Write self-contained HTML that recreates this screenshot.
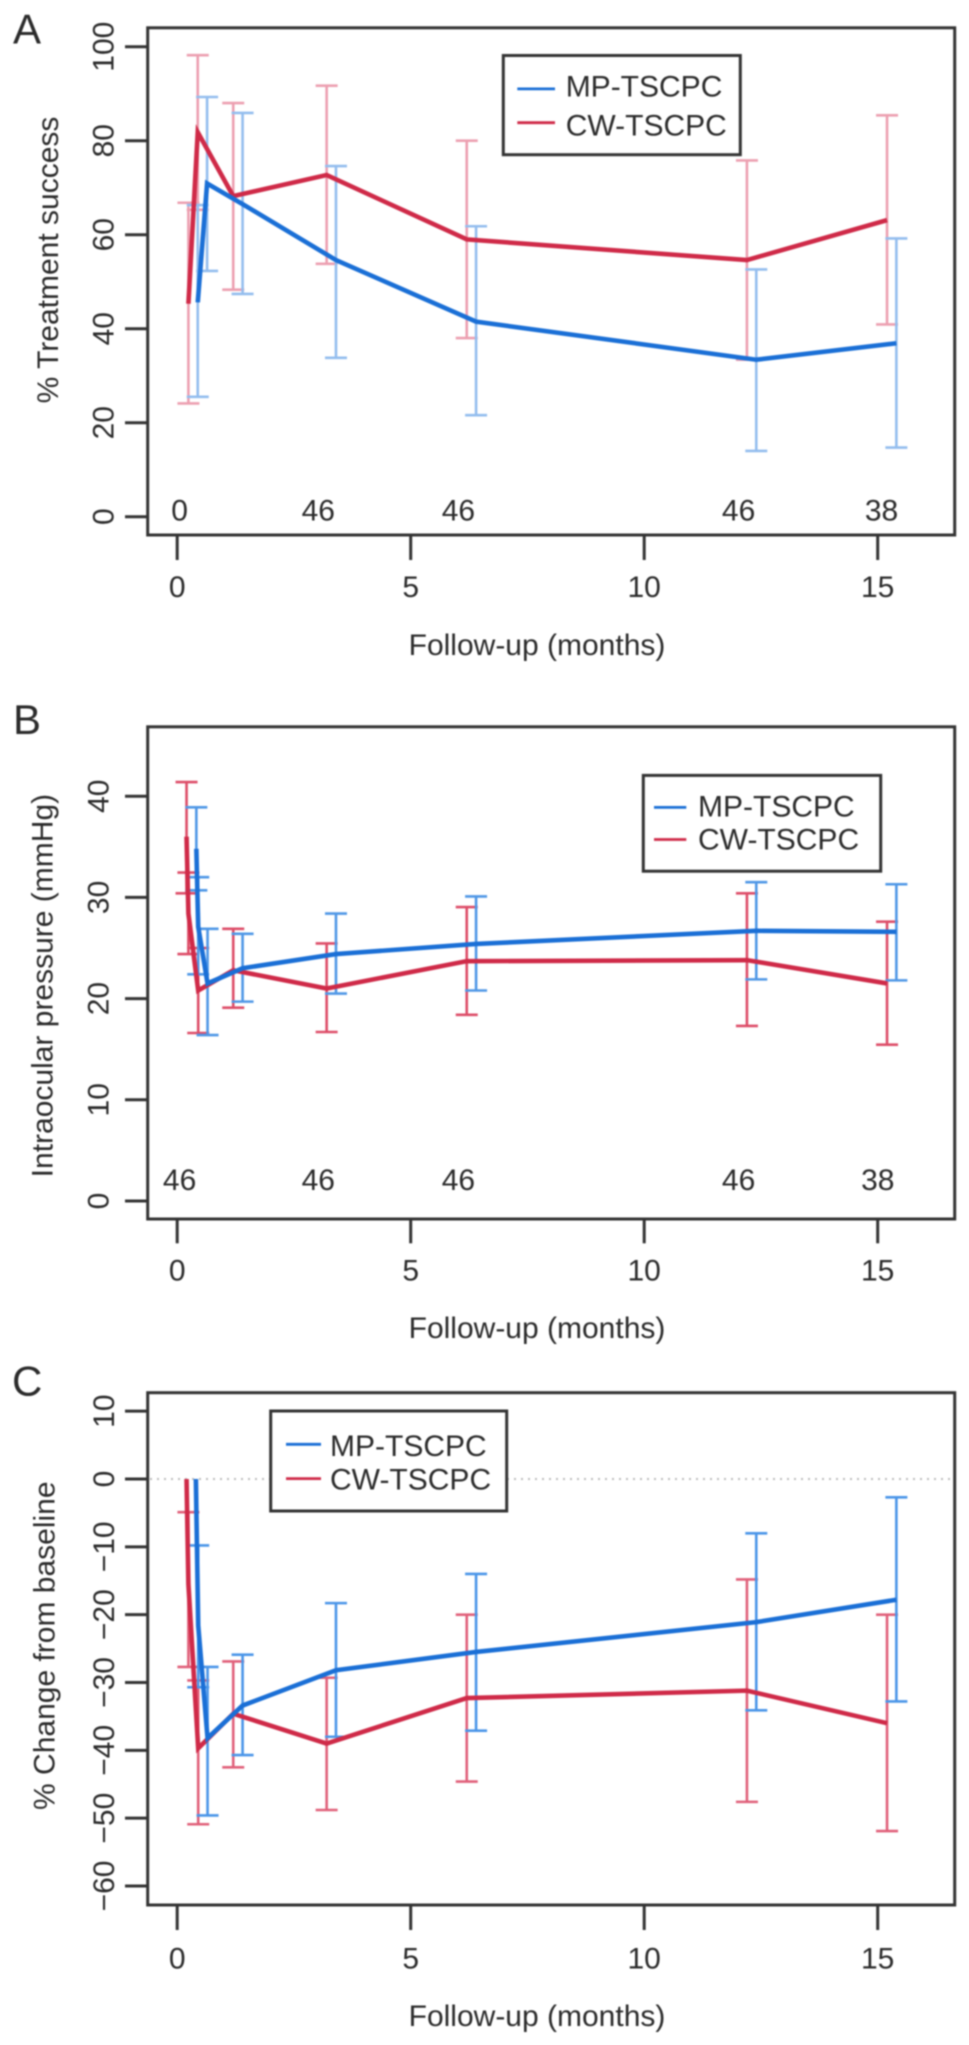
<!DOCTYPE html>
<html lang="en">
<head>
<meta charset="utf-8">
<title>Treatment success, intraocular pressure and change from baseline: MP-TSCPC vs CW-TSCPC</title>
<style>
html,body{margin:0;padding:0;background:#fff;width:969px;height:2045px;overflow:hidden}
svg{display:block;filter:blur(0.75px)}
text{font-family:"Liberation Sans",sans-serif;font-size:30px;fill:#2b2b2b}
.letter{font-size:42px}
.box{fill:none;stroke:#333;stroke-width:3}
.legend-box{fill:#fff;stroke:#333;stroke-width:3}
.tick{stroke:#333;stroke-width:3}
</style>
</head>
<body>
<svg id="figure" xmlns="http://www.w3.org/2000/svg" width="969" height="2045" viewBox="0 0 969 2045">
  <rect x="0" y="0" width="969" height="2045" fill="#fff"/>

  <g id="panel-a">
    <text class="letter" x="13" y="43.3">A</text>
    <text transform="translate(58,260) rotate(-90)" text-anchor="middle">% Treatment success</text>
    <text x="537" y="655" text-anchor="middle">Follow-up (months)</text>
    <g id="marks-a"></g>
    <rect class="box" x="147.7" y="27.8" width="807" height="507.2"/>
    <g>
      <rect class="legend-box" x="503.3" y="55.5" width="237" height="99.2"/>
      <line x1="517.3" x2="555" y1="88.9" y2="88.9" stroke="#1a6fd6" stroke-width="2.8"/>
      <line x1="517.3" x2="555" y1="122.7" y2="122.7" stroke="#cf2a48" stroke-width="2.8"/>
      <text x="565.7" y="96.5">MP-TSCPC</text>
      <text x="565.7" y="135.5">CW-TSCPC</text>
    </g>
  </g>

  <g id="panel-b">
    <text class="letter" x="13" y="734.2">B</text>
    <text transform="translate(52.5,985.6) rotate(-90)" text-anchor="middle">Intraocular pressure (mmHg)</text>
    <text x="537" y="1338" text-anchor="middle">Follow-up (months)</text>
    <g id="marks-b"></g>
    <rect class="box" x="147.7" y="726.8" width="807" height="492.2"/>
    <g>
      <rect class="legend-box" x="643.3" y="775.4" width="237.4" height="95.8"/>
      <line x1="654" x2="686.3" y1="807.4" y2="807.4" stroke="#1a6fd6" stroke-width="2.8"/>
      <line x1="654" x2="686.3" y1="839.5" y2="839.5" stroke="#cf2a48" stroke-width="2.8"/>
      <text x="698" y="816.4">MP-TSCPC</text>
      <text x="698" y="849.3">CW-TSCPC</text>
    </g>
  </g>

  <g id="panel-c">
    <text class="letter" x="12" y="1395.3">C</text>
    <text transform="translate(54.5,1645.7) rotate(-90)" text-anchor="middle">% Change from baseline</text>
    <text x="537" y="2026" text-anchor="middle">Follow-up (months)</text>
    <g id="marks-c"></g>
    <rect class="box" x="147.7" y="1392.7" width="807" height="512.3"/>
    <g>
      <rect class="legend-box" x="270.7" y="1411" width="236" height="100"/>
      <line x1="286" x2="321" y1="1444.3" y2="1444.3" stroke="#1a6fd6" stroke-width="2.8"/>
      <line x1="286" x2="321" y1="1478.6" y2="1478.6" stroke="#cf2a48" stroke-width="2.8"/>
      <text x="330" y="1456">MP-TSCPC</text>
      <text x="330" y="1489.7">CW-TSCPC</text>
    </g>
  </g>
</svg>

<script>
// Shared x-axis values
const xTicks = [0, 5, 10, 15];

// Panel A: % treatment success
const aYTicks = [0, 20, 40, 60, 80, 100];
const aCountLabels = ["0", "46", "46", "46", "38"];
const aCountMonths = [0.03, 3, 6, 12, 15.06];
const aCwMonths = [0.24, 0.44, 1.2, 3.2, 6.2, 12.2, 15.2];
const aCwMean = [45.3, 81.8, 68.2, 72.7, 59, 54.6, 63.1];
const aCwUpper = [66.8, 98.2, 88, 91.7, 80, 75.8, 85.4];
const aCwLower = [24.1, 65.3, 48.3, 53.8, 38, 33.4, 40.9];
const aMpMonths = [0.44, 0.64, 1.4, 3.4, 6.4, 12.4, 15.4];
const aMpMean = [45.6, 70.9, 66.5, 54.6, 41.5, 33.4, 36.9];
const aMpUpper = [66.3, 89.3, 85.9, 74.6, 61.8, 52.6, 59.2];
const aMpLower = [25.5, 52.3, 47.4, 33.8, 21.6, 14, 14.7];

// Panel B: intraocular pressure (mmHg)
const bYTicks = [0, 10, 20, 30, 40];
const bCountLabels = ["46", "46", "46", "46", "38"];
const bCountMonths = [0.03, 3, 6, 12, 14.98];
const bCwMonths = [0.2, 0.24, 0.45, 1.2, 3.2, 6.2, 12.2, 15.2];
const bCwMean = [36, 28.4, 20.8, 22.8, 21, 23.7, 23.8, 21.5];
const bCwUpper = [41.4, 32.45, 25, 26.9, 25.45, 29.05, 30.4, 27.6];
const bCwLower = [30.4, 24.4, 16.6, 19.1, 16.7, 18.4, 17.3, 15.45];
const bMpMonths = [0.41, 0.45, 0.65, 1.4, 3.4, 6.4, 12.4, 15.4];
const bMpMean = [34.8, 27.1, 21.5, 23, 24.4, 25.4, 26.7, 26.6];
const bMpUpper = [38.9, 32, 26.9, 26.4, 28.4, 30.1, 31.5, 31.3];
const bMpLower = [30.7, 22.4, 16.4, 19.7, 20.5, 20.8, 21.9, 21.8];

// Panel C: % change from baseline
const cYTicks = [-60, -50, -40, -30, -20, -10, 0, 10];
const cCwMonths = [0.24, 0.45, 1.2, 3.2, 6.2, 12.2, 15.2];
const cCwMean = [-15.5, -39.7, -34.6, -39, -32.3, -31.2, -36];
const cCwUpper = [-4.9, -29.7, -26.9, -29.3, -20, -14.8, -20];
const cCwLower = [-27.7, -50.9, -42.5, -48.8, -44.6, -47.6, -51.9];
const cMpMonths = [0.45, 0.65, 1.4, 3.4, 6.4, 12.4, 15.4];
const cMpMean = [-21.6, -38.2, -33.4, -28.2, -25.5, -21.1, -17.8];
const cMpUpper = [-9.8, -27.7, -25.9, -18.3, -14, -8, -2.7];
const cMpLower = [-30.7, -49.6, -40.7, -38, -37.1, -34.1, -32.8];
const cBaselineMonths = [0.2, 0.4];
const cBaselineValue = [0];

// Axis functions
const xScale = m => 177.2 + 46.7 * m;
const yScaleA = v => 516.7 - 4.7 * v;
const yScaleB = v => 1201 - 10.12 * v;
const yScaleC = v => 1479 - 6.783 * v;

const NS = 'http://www.w3.org/2000/svg';
const RED = '#cf2a48';
const BLUE = '#1a6fd6';
const CAP = 11;

function addLine(parent, x1, y1, x2, y2, stroke, width, name) {
  const el = document.createElementNS(NS, 'line');
  el.setAttribute('x1', x1);
  el.setAttribute('y1', y1);
  el.setAttribute('x2', x2);
  el.setAttribute('y2', y2);
  el.setAttribute('stroke', stroke);
  el.setAttribute('stroke-width', width);
  
  
  parent.appendChild(el);
  return el;
}

function addText(parent, str, x, y, rotate, name) {
  const el = document.createElementNS(NS, 'text');
  el.textContent = str;
  el.setAttribute('text-anchor', 'middle');
  if (rotate) {
    el.setAttribute('transform', 'translate(' + x + ',' + y + ') rotate(-90)');
  } else {
    el.setAttribute('x', x);
    el.setAttribute('y', y);
  }
  
  
  parent.appendChild(el);
  return el;
}

function drawAxes(g, yTicks, yScale, bottom, xTickEnd, xLabelY, yLabelX, panel) {
  yTicks.forEach(v => {
    const y = yScale(v);
    addLine(g, 125, y, 147.7, y, '#333', 3, 'y-tick-' + panel + '-' + v);
    addText(g, String(v).replace('-', '\u2212'), yLabelX, y, true, 'y-tick-label-' + panel + '-' + v);
  });
  xTicks.forEach(m => {
    const x = xScale(m);
    addLine(g, x, bottom, x, xTickEnd, '#333', 3, 'x-tick-' + panel + '-' + m);
    addText(g, String(m), x, xLabelY, false, 'x-tick-label-' + panel + '-' + m);
  });
}

function drawErrorBars(g, months, upper, lower, yScale, color, width, name) {
  months.forEach((m, i) => {
    const x = xScale(m);
    const yu = yScale(upper[i]);
    const yl = yScale(lower[i]);
    addLine(g, x, yu, x, yl, color, width, name + '-bar-' + i);
    addLine(g, x - CAP, yu, x + CAP, yu, color, width, name + '-upper-cap-' + i);
    addLine(g, x - CAP, yl, x + CAP, yl, color, width, name + '-lower-cap-' + i);
  });
}

function drawSeries(g, months, values, yScale, color, name) {
  const el = document.createElementNS(NS, 'polyline');
  el.setAttribute('points', months.map((m, i) => xScale(m).toFixed(2) + ',' + yScale(values[i]).toFixed(2)).join(' '));
  el.setAttribute('fill', 'none');
  el.setAttribute('stroke', color);
  el.setAttribute('stroke-width', '4.6');
  el.setAttribute('stroke-linejoin', 'miter');
  
  
  g.appendChild(el);
}

function drawCounts(g, labels, months, y, panel) {
  labels.forEach((label, i) => {
    addText(g, label, xScale(months[i]) + 1, y, false, 'patient-count-' + panel + '-' + i);
  });
}

// Panel A
const marksA = document.getElementById('marks-a');
drawAxes(marksA, aYTicks, yScaleA, 535, 560, 597, 113.5, 'a');
drawCounts(marksA, aCountLabels, aCountMonths, 520.5, 'a');
drawErrorBars(marksA, aCwMonths, aCwUpper, aCwLower, yScaleA, '#ec9fb0', 2.6, 'cw-error-a');
drawErrorBars(marksA, aMpMonths, aMpUpper, aMpLower, yScaleA, '#93bdee', 2.6, 'mp-error-a');
drawSeries(marksA, aCwMonths, aCwMean, yScaleA, RED, 'cw-line-a');
drawSeries(marksA, aMpMonths, aMpMean, yScaleA, BLUE, 'mp-line-a');

// Panel B
const marksB = document.getElementById('marks-b');
drawAxes(marksB, bYTicks, yScaleB, 1219, 1243.3, 1280.5, 108.5, 'b');
drawCounts(marksB, bCountLabels, bCountMonths, 1190, 'b');
drawErrorBars(marksB, bCwMonths, bCwUpper, bCwLower, yScaleB, '#dd4d68', 2.6, 'cw-error-b');
drawErrorBars(marksB, bMpMonths, bMpUpper, bMpLower, yScaleB, '#4f97e6', 2.6, 'mp-error-b');
drawSeries(marksB, bCwMonths, bCwMean, yScaleB, RED, 'cw-line-b');
drawSeries(marksB, bMpMonths, bMpMean, yScaleB, BLUE, 'mp-line-b');

// Panel C
const marksC = document.getElementById('marks-c');
drawAxes(marksC, cYTicks, yScaleC, 1905, 1930, 1968.3, 114, 'c');
const baselineRule = addLine(marksC, 150, yScaleC(0), 952, yScaleC(0), '#bdbdbd', 2, 'baseline-dotted-line');
baselineRule.setAttribute('stroke-dasharray', '2 5');
drawErrorBars(marksC, cCwMonths, cCwUpper, cCwLower, yScaleC, '#e0607a', 2.6, 'cw-error-c');
drawErrorBars(marksC, cMpMonths, cMpUpper, cMpLower, yScaleC, '#4a95e8', 2.6, 'mp-error-c');
drawSeries(marksC, [cBaselineMonths[0]].concat(cCwMonths), cBaselineValue.concat(cCwMean), yScaleC, RED, 'cw-line-c');
drawSeries(marksC, [cBaselineMonths[1]].concat(cMpMonths), cBaselineValue.concat(cMpMean), yScaleC, BLUE, 'mp-line-c');
</script>
</body>
</html>
